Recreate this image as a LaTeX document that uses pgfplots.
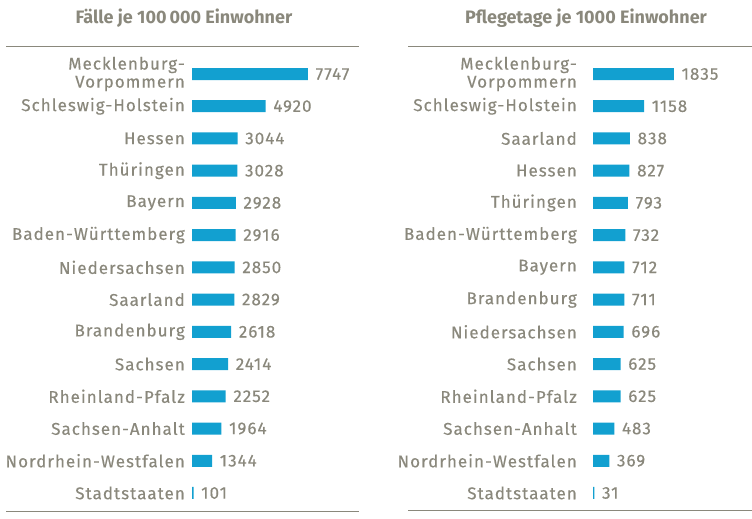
\documentclass[border=0pt]{standalone}
\usepackage{fontspec}
\setmainfont{Fira Sans}[LetterSpace=6, FakeBold=0.35]
\newfontfamily\titlefont{Fira Sans}
\usepackage{pgfplots}
\pgfplotsset{compat=1.18}
\definecolor{txtgray}{HTML}{8A887C}
\definecolor{barblue}{HTML}{12A0D0}
\begin{document}
\begin{tikzpicture}[x=1pt,y=1pt]
\useasboundingbox (0,0) rectangle (752,519);
\pgfplotsset{
 panel/.style={
  xbar, y dir=reverse, scale only axis, clip=false,
  axis line style={draw=none}, xtick=\empty, major tick length=0pt,
  ymin=-0.838, ymax=13.59, ytick={0,...,13}, xmin=0,
  height=465pt, anchor=north west,
  bar width=12pt,
  yticklabel style={font=\fontsize{17}{18}\selectfont, color=txtgray, align=right, inner sep=0pt},
  nodes near coords={\pgfmathprintnumber[fixed,precision=0,1000 sep={},assume math mode=true]{\pgfplotspointmeta}},
  point meta=x,
  nodes near coords style={font=\fontsize{17}{18}\selectfont, color=txtgray, anchor=west, inner sep=0pt, xshift=7.5pt},
 }
}
\begin{axis}[panel, at={(192pt,472pt)}, width=167pt, xmax=11155,
  yticklabel style={xshift=-7pt},
  yticklabels={{Mecklenburg-\\Vorpommern},Schleswig-Holstein,Hessen,Thüringen,Bayern,Baden-Württemberg,Niedersachsen,Saarland,Brandenburg,Sachsen,Rheinland-Pfalz,Sachsen-Anhalt,Nordrhein-Westfalen,Stadtstaaten}]
\addplot[fill=barblue, draw=none] coordinates {(7747,0) (4920,1) (3044,2) (3028,3) (2928,4) (2916,5) (2850,6) (2829,7) (2618,8) (2414,9) (2252,10) (1964,11) (1344,12) (101,13)};
\end{axis}
\begin{axis}[panel, at={(593pt,472pt)}, width=159pt, xmax=3605,
  yticklabel style={xshift=-16pt},
  yticklabels={{Mecklenburg-\\Vorpommern},Schleswig-Holstein,Saarland,Hessen,Thüringen,Baden-Württemberg,Bayern,Brandenburg,Niedersachsen,Sachsen,Rheinland-Pfalz,Sachsen-Anhalt,Nordrhein-Westfalen,Stadtstaaten}]
\addplot[fill=barblue, draw=none] coordinates {(1835,0) (1158,1) (838,2) (827,3) (793,4) (732,5) (712,6) (711,7) (696,8) (625,9) (625,10) (483,11) (369,12) (31,13)};
\end{axis}
\draw[txtgray, line width=1pt] (6,472) -- (359,472);
\draw[txtgray, line width=1pt] (6,7) -- (359,7);
\draw[txtgray, line width=1pt] (408,472) -- (752,472);
\draw[txtgray, line width=1pt] (408,8) -- (752,8);
\node[font=\titlefont\bfseries\fontsize{18}{18}\selectfont, color=txtgray] at (184,501) {Fälle je 100\,000 Einwohner};
\node[font=\titlefont\bfseries\fontsize{18}{18}\selectfont, color=txtgray] at (586,501) {Pflegetage je 1000 Einwohner};
\end{tikzpicture}
\end{document}
